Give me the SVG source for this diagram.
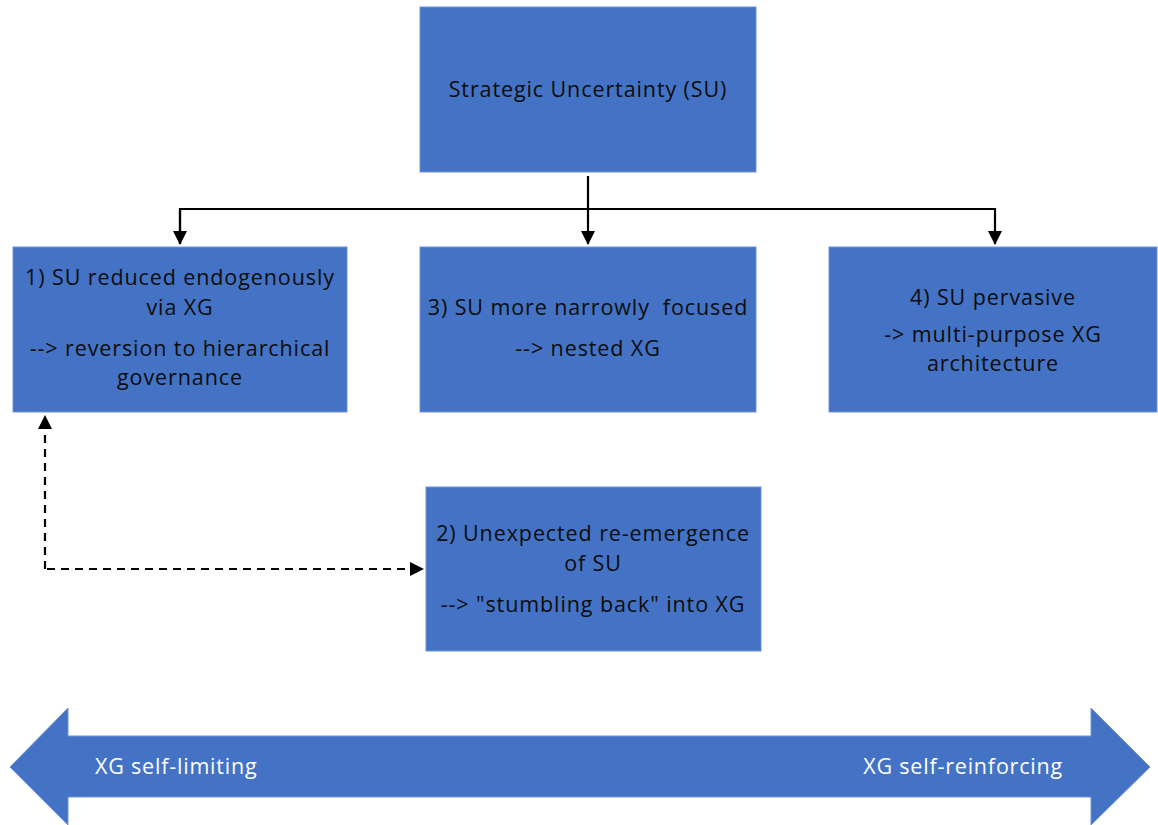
<svg xmlns="http://www.w3.org/2000/svg" width="1158" height="825" viewBox="0 0 1158 825">
<style>
.box{fill:#4472C4;stroke:#6F93D6;stroke-width:1}
.t{font-family:"Open Sans","Liberation Sans",Arial,sans-serif;font-size:21.5px;letter-spacing:0.9px;fill:#0d0d0d;text-anchor:middle}
.w{font-family:"Open Sans","Liberation Sans",Arial,sans-serif;font-size:21.5px;letter-spacing:0.8px;fill:#ffffff}
.c{fill:none;stroke:#000;stroke-width:2.2}
.d{fill:none;stroke:#000;stroke-width:2.2;stroke-dasharray:8,6}
</style>
<defs>
<marker id="ah2" markerWidth="14" markerHeight="14" refX="13" refY="7" orient="auto" markerUnits="userSpaceOnUse" viewBox="0 0 14 14">
<path d="M0,0 L14,7 L0,14 z" fill="#000"/>
</marker>
</defs>
<g id="connectors">
<path class="c" d="M588,176 V244" marker-end="url(#ah2)"/>
<path class="c" d="M180,244 V209 H995 V244" marker-end="url(#ah2)"/>
<path class="c" d="M180,210 V244" marker-end="url(#ah2)"/>
<path class="d" d="M45,569 V416" marker-end="url(#ah2)"/>
<path class="d" d="M47,569 H423" marker-end="url(#ah2)"/>
</g>
<g id="node-su">
<rect class="box" x="420" y="7" width="336" height="165"/>
<text class="t" x="588" y="97">Strategic Uncertainty (SU)</text>
</g>
<g id="node-1">
<rect class="box" x="13" y="247" width="334" height="165"/>
<text class="t" x="180" y="285">1) SU reduced endogenously</text>
<text class="t" x="180" y="315">via XG</text>
<text class="t" x="180" y="356">--&gt; reversion to hierarchical</text>
<text class="t" x="180" y="385">governance</text>
</g>
<g id="node-3">
<rect class="box" x="420" y="247" width="336" height="165"/>
<text class="t" x="588" y="315" xml:space="preserve">3) SU more narrowly  focused</text>
<text class="t" x="588" y="356">--&gt; nested XG</text>
</g>
<g id="node-4">
<rect class="box" x="829" y="247" width="328" height="165"/>
<text class="t" x="993" y="305">4) SU pervasive</text>
<text class="t" x="993" y="342">-&gt; multi-purpose XG</text>
<text class="t" x="993" y="371">architecture</text>
</g>
<g id="node-2">
<rect class="box" x="426" y="487" width="335" height="164"/>
<text class="t" x="593" y="541">2) Unexpected re-emergence</text>
<text class="t" x="593" y="571">of SU</text>
<text class="t" x="593" y="612">--&gt; "stumbling back" into XG</text>
</g>
<g id="scale-arrow">
<path d="M10,767 L68,708 L68,736 L1091,736 L1091,708 L1150,767 L1091,825 L1091,797 L68,797 L68,825 Z" fill="#4472C4" stroke="#6F93D6" stroke-width="1"/>
<text class="w" x="95" y="774">XG self-limiting</text>
<text class="w" x="1063" y="774" text-anchor="end">XG self-reinforcing</text>
</g>
</svg>
